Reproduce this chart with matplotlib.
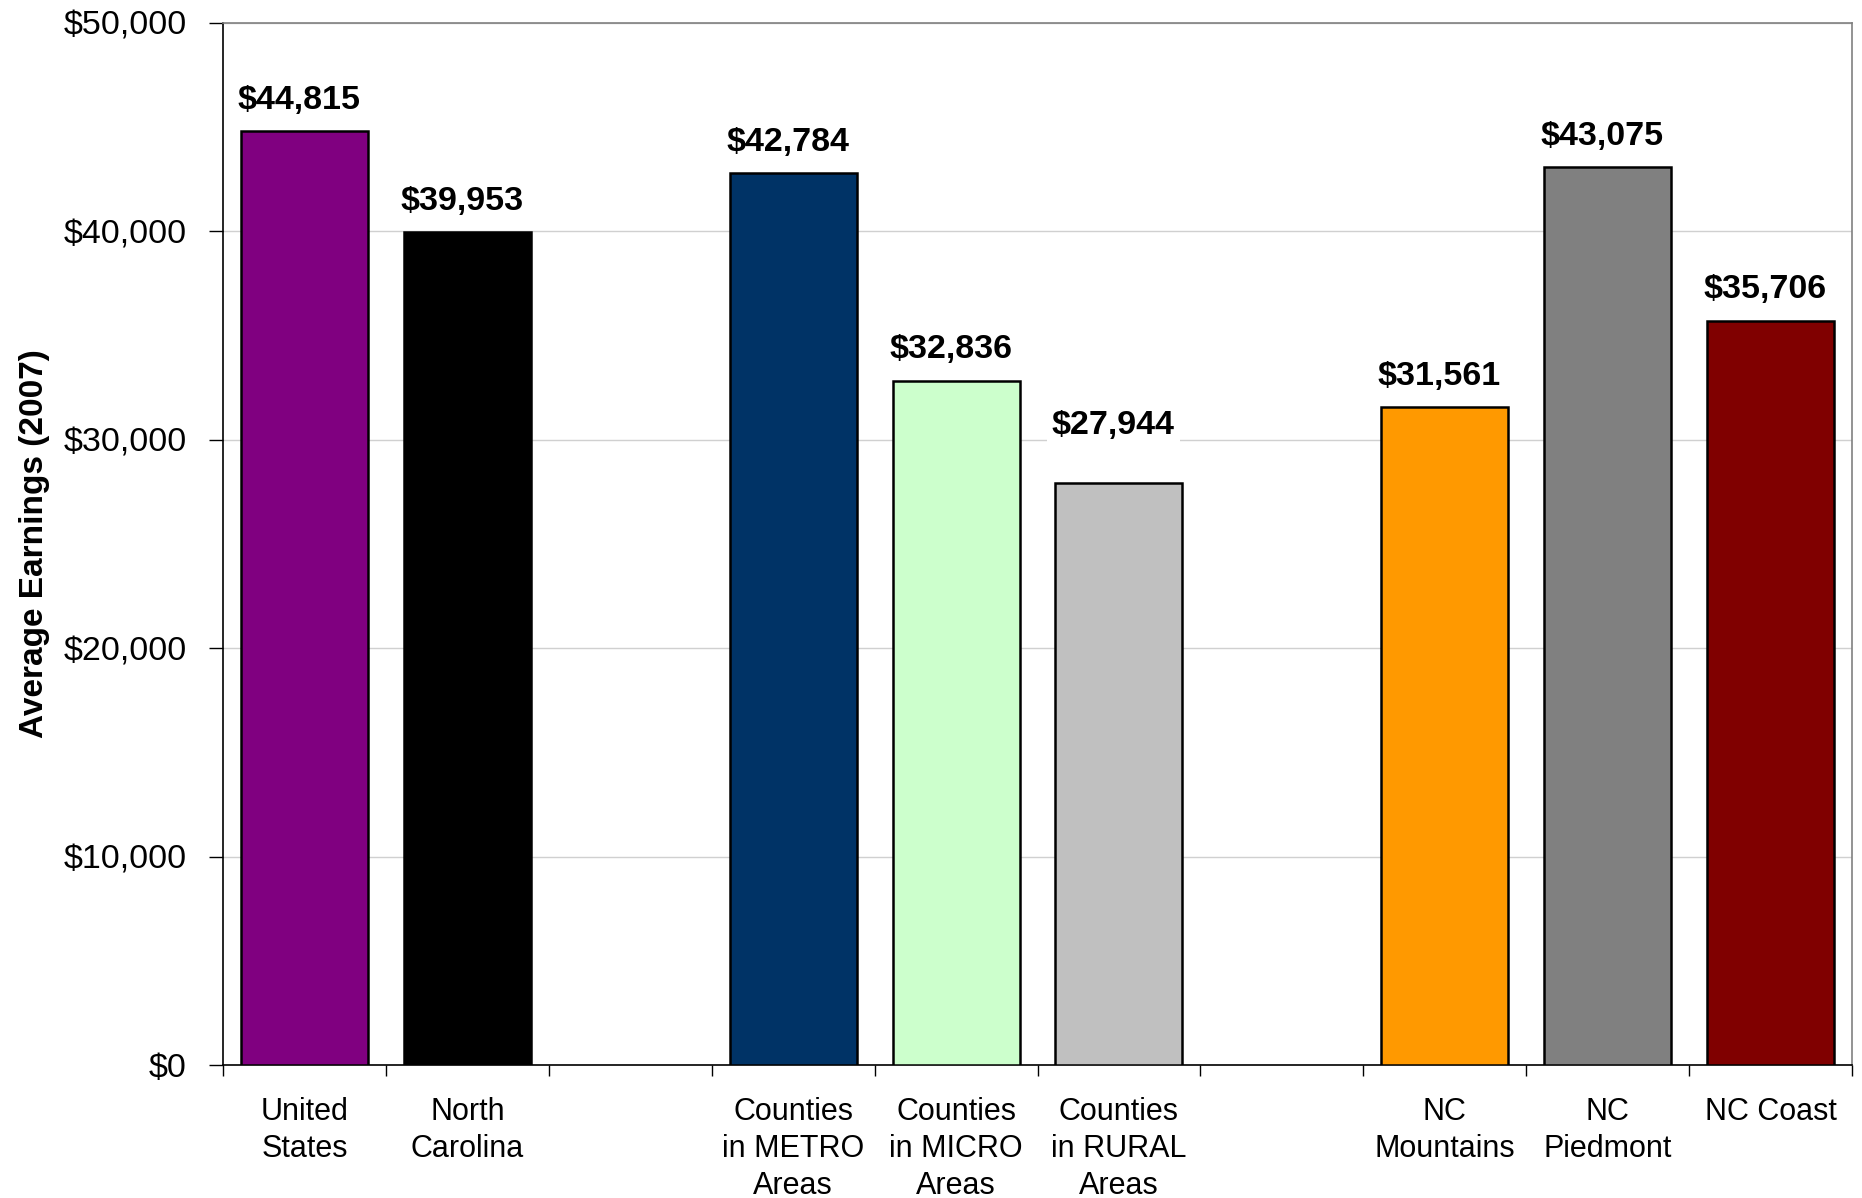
import numpy as np
import matplotlib
matplotlib.use("Agg")
import matplotlib.pyplot as plt
from matplotlib.ticker import FuncFormatter, MultipleLocator

plt.rcParams['font.family'] = ['Liberation Sans', 'DejaVu Sans']

categories = ["United\nStates", "North\nCarolina", "",
              "Counties\nin METRO\nAreas", "Counties\nin MICRO\nAreas", "Counties\nin RURAL\nAreas", "",
              "NC\nMountains", "NC\nPiedmont", "NC Coast"]
values = [44815, 39953, np.nan, 42784, 32836, 27944, np.nan, 31561, 43075, 35706]
colors = ["#800080", "#000000", "none", "#003366", "#CCFFCC", "#C0C0C0", "none",
          "#FF9900", "#808080", "#800000"]

fig = plt.figure(figsize=(18.62, 11.98), dpi=100)
ax = fig.add_axes([0.1198, 0.111, 0.8748, 0.870])

x = np.arange(len(categories))
for i, (xi, v, c) in enumerate(zip(x, values, colors)):
    if np.isnan(v):
        continue
    ax.bar(xi, v, width=0.78, color=c, edgecolor="black", linewidth=1.8, zorder=3)
    dy = 11 if i != 5 else 30
    ax.annotate(f"${v:,.0f}", (xi, v), xytext=(-4, dy), textcoords="offset points",
                ha="center", va="bottom", fontsize=24.5, fontweight="bold", zorder=5,
                bbox=dict(boxstyle="square,pad=0.15", fc="white", ec="none"))

ax.set_xlim(-0.5, len(categories) - 0.5)
ax.set_ylim(0, 50000)
ax.yaxis.set_major_locator(MultipleLocator(10000))
ax.yaxis.set_major_formatter(FuncFormatter(lambda v, p: f"${v:,.0f}"))
ax.grid(axis="y", color="#D0D0D0", linewidth=1.0, zorder=0)
ax.set_axisbelow(True)

ax.set_xticks(x)
ax.set_xticklabels(categories, fontsize=22, linespacing=1.31)
ax.set_xticks(np.arange(-0.5, len(categories)), minor=True)
ax.tick_params(axis="x", which="major", length=0, pad=23)
ax.tick_params(axis="x", which="minor", length=8, width=1, direction="out")
ax.tick_params(axis="y", labelsize=24.5, length=10, width=1, direction="out", pad=16)

for s in ["top", "right"]:
    ax.spines[s].set_color("#808080")
    ax.spines[s].set_linewidth(1.2)
for s in ["left", "bottom"]:
    ax.spines[s].set_color("black")
    ax.spines[s].set_linewidth(1.2)

ax.set_ylabel("Average Earnings (2007)", fontsize=24, fontweight="bold")
ax.yaxis.set_label_coords(-0.106, 0.5)

fig.savefig("out.png", dpi=100, facecolor="white")
